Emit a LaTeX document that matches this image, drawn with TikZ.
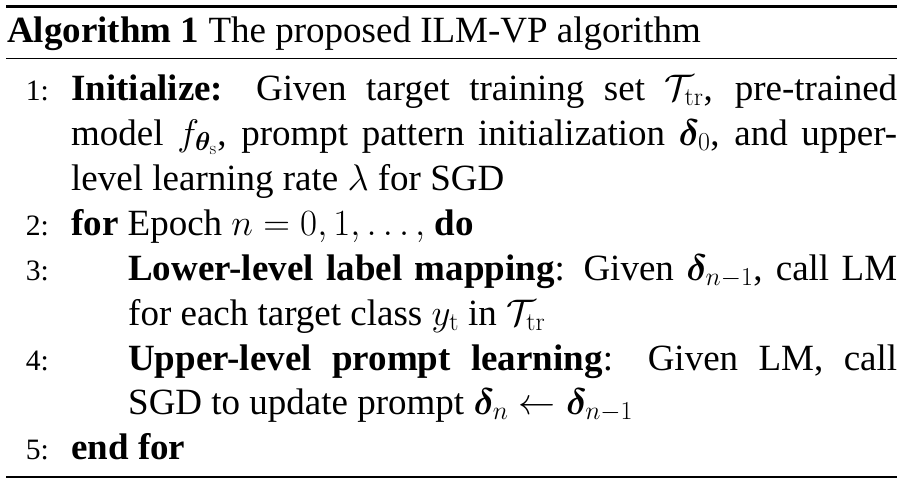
\RequirePackage{fix-cm}
\documentclass[tikz,border=0pt]{standalone}
\usepackage{amsmath}
\usepackage{bm}
\usepackage[no-math]{fontspec}
\setmainfont{Liberation Serif}
\newcommand\mainsz{\fontsize{37}{44.75}\selectfont}
\newcommand\numsz{\fontsize{29.6}{36}\selectfont}
\tikzset{
  txt/.style={anchor=base west, inner sep=0pt, font=\mainsz},
  num/.style={anchor=base east, inner sep=0pt, font=\numsz},
  toprule/.style={line width=2.8pt},
  midrule/.style={line width=1.6pt},
}
\begin{document}
\begin{tikzpicture}[x=1pt,y=-1pt]
\useasboundingbox (0,0) rectangle (903,483);
% rules
\coordinate (t1) at (6,6.5); \coordinate (t2) at (897,6.5);
\coordinate (m1) at (6,58.5); \coordinate (m2) at (897,58.5);
\coordinate (b1) at (6,477); \coordinate (b2) at (897,477);
\draw[toprule] (t1) -- (t2);
\draw[midrule] (m1) -- (m2);
\draw[toprule, line width=2.4pt] (b1) -- (b2);
% caption
\node[txt] (cap) at (7,42) {\textbf{Algorithm 1} The proposed ILM-VP algorithm};
% line numbers
\node[num] (n1) at (49,100) {1:};
\node[num] (n2) at (49,235) {2:};
\node[num] (n3) at (49,280) {3:};
\node[num] (n4) at (49,370) {4:};
\node[num] (n5) at (49,459) {5:};
% line 1
\node[txt] (l1a) at (71,100) {\makebox[826pt][s]{\textbf{Initialize:} Given target training set $\mathcal{T}_{\mathrm{tr}}$, pre-trained}};
\node[txt] (l1b) at (71,145) {\makebox[826pt][s]{model $f_{\bm{\theta}_{\mathrm{s}}}$, prompt pattern initialization $\bm{\delta}_0$, and upper-}};
\node[txt] (l1c) at (71,190) {level learning rate $\lambda$ for SGD};
% line 2
\node[txt] (l2) at (71,235) {\textbf{for} Epoch $n=0,1,\ldots,$ \textbf{do}};
% line 3
\node[txt] (l3a) at (128,280) {\makebox[769pt][s]{\textbf{Lower-level label mapping}: Given $\bm{\delta}_{n-1}$, call LM}};
\node[txt] (l3b) at (128,325) {for each target class $y_{\mathrm{t}}$ in $\mathcal{T}_{\mathrm{tr}}$};
% line 4
\node[txt] (l4a) at (128,370) {\makebox[769pt][s]{\textbf{Upper-level prompt learning}: Given LM, call}};
\node[txt] (l4b) at (128,414) {SGD to update prompt $\bm{\delta}_n \leftarrow \bm{\delta}_{n-1}$};
% line 5
\node[txt] (l5) at (71,459) {\textbf{end for}};
\end{tikzpicture}
\end{document}
